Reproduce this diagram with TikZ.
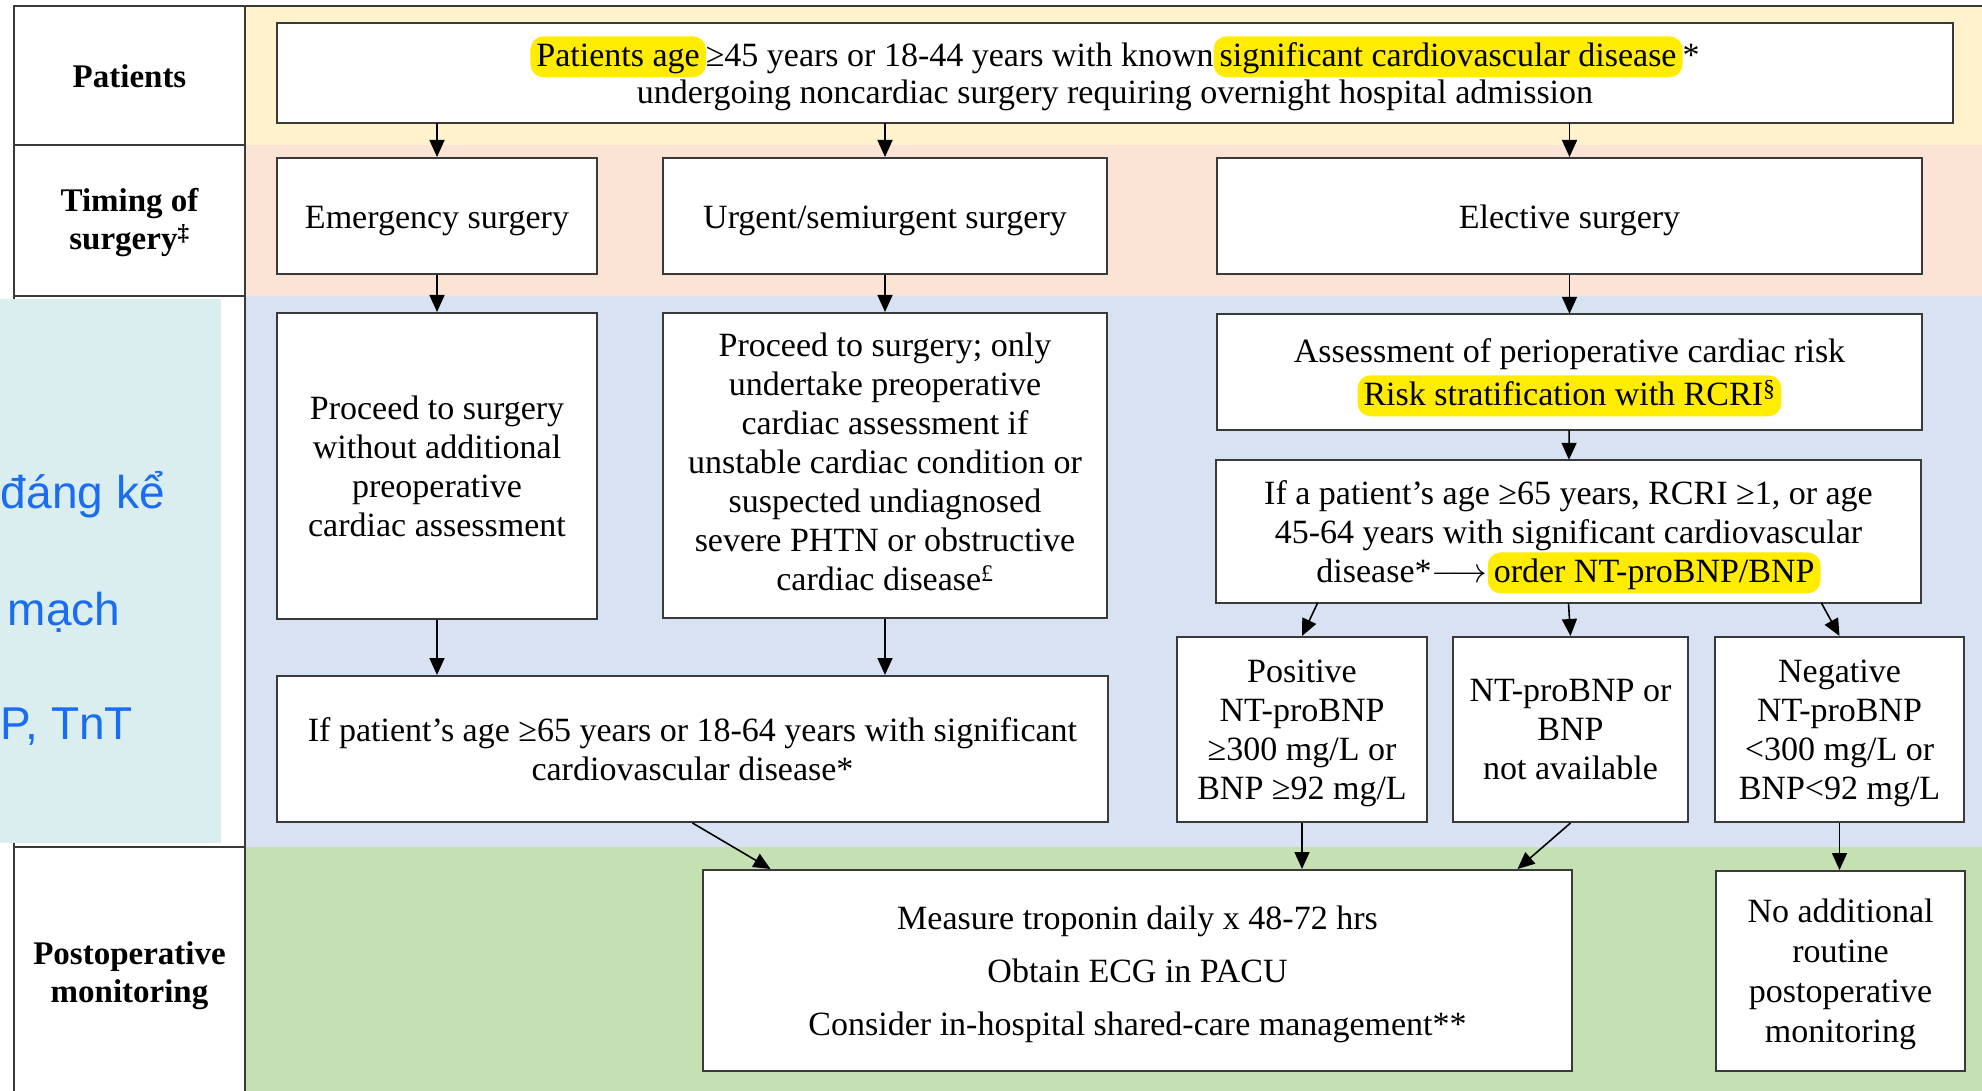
\documentclass[tikz,border=0pt]{standalone}
\usepackage{fontspec}
\setmainfont{Liberation Serif}
\newfontfamily\slidefont{Liberation Sans}
\usetikzlibrary{arrows.meta, positioning}

\definecolor{bandyellow}{HTML}{FFF2CC}
\definecolor{bandpink}{HTML}{FBE4D5}
\definecolor{bandblue}{HTML}{D9E2F3}
\definecolor{bandgreen}{HTML}{C5E0B3}
\definecolor{slideteal}{HTML}{DAEDEF}
\definecolor{slideblue}{HTML}{1A6DF0}
\definecolor{hlyellow}{HTML}{FFEC00}
\definecolor{rule}{HTML}{3A3A3A}

% yellow marker behind a few words
\newcommand{\hlt}[1]{\smash{\tikz[baseline=(h.base)]\node[shape=rectangle, draw=none, fill=hlyellow,
  rounded corners=13pt, minimum width=0pt, minimum height=0pt, inner xsep=6pt, inner ysep=3pt,
  text height=27pt, text depth=8pt] (h) {#1};}\vphantom{#1}}
\newcommand{\tallstrut}{\rule{0pt}{31pt}}
\newcommand{\deepstrut}{\rule[-8pt]{0pt}{8pt}}

\begin{document}
\begin{tikzpicture}[x=1pt, y=-1pt, line width=2pt,
  box/.style={draw=rule, fill=white, rectangle, inner sep=4pt, align=center,
    font=\fontsize{34}{39}\selectfont},
  oneline/.style={text height=26pt, text depth=0pt},
  lab/.style={align=center, font=\bfseries\fontsize{33}{38}\selectfont},
  arr/.style={-{Triangle[length=17pt, width=15pt]}, line width=1.6pt},
  slide/.style={anchor=base west, text=slideblue, font=\slidefont\fontsize{46}{50}\selectfont}]

  \useasboundingbox (0,0) rectangle (1982,1091);

  % bands
  \fill[bandyellow] (245,6) rectangle (1982,145);
  \fill[bandpink] (245,145) rectangle (1982,296);
  \fill[bandblue] (245,296) rectangle (1982,847);
  \fill[bandgreen] (245,847) rectangle (1982,1091);

  % label column
  \draw[rule] (14,1091) -- (14,6) -- (1982,6);
  \draw[rule] (245,6) -- (245,1091);
  \foreach \y in {145,296,847}
    \draw[rule] (14,\y) -- (245,\y);

  \node[lab] (patients) at (129.5,76) {Patients};
  \node[lab] (timing) at (129.5,223) {Timing of\\surgery\textsuperscript{‡}};
  \node[lab] (postop) at (129.5,976) {Postoperative\\monitoring};

  \fill[slideteal] (0,299) rectangle (221,843);
  \begin{scope}
    \clip (0,299) rectangle (221,843);
    \node[slide, inner xsep=0pt] (s1) at (0,508) {đáng kể};
    \node[slide, inner xsep=0pt] (s2) at (7,625) {mạch};
    \node[slide, inner xsep=0pt] (s3) at (0,739) {P, TnT};
  \end{scope}

  % boxes
  \node[box, minimum width=1676pt, minimum height=100pt, font=\fontsize{34}{37}\selectfont] (top) at (1115,73)
    {\tallstrut\hlt{Patients age}≥45 years or 18-44 years with known\hlt{significant cardiovascular disease}*\\
     undergoing noncardiac surgery requiring overnight hospital admission};

  \node[box, oneline, minimum width=320pt, minimum height=116pt] (emerg) at (437,216) {Emergency surgery};
  \node[box, oneline, minimum width=444pt, minimum height=116pt] (urg) at (885,216) {Urgent/semiurgent surgery};
  \node[box, oneline, minimum width=705pt, minimum height=116pt] (elec) at (1569.5,216) {Elective surgery};

  \node[box, minimum width=320pt, minimum height=306pt] (proc1) at (437,466)
    {Proceed to surgery\\without additional\\preoperative\\cardiac assessment};
  \node[box, minimum width=444pt, minimum height=305pt] (proc2) at (885,465.5)
    {Proceed to surgery; only\\undertake preoperative\\cardiac assessment if\\unstable cardiac condition or\\
     suspected undiagnosed\\severe PHTN or obstructive\\cardiac disease\textsuperscript{£}\deepstrut};
  \node[box, minimum width=831pt, minimum height=146pt] (ifpat) at (692.5,749)
    {If patient’s age ≥65 years or 18-64 years with significant\\cardiovascular disease*};

  \node[box, minimum width=705pt, minimum height=116pt, font=\fontsize{34}{43}\selectfont] (assess) at (1569.5,372)
    {Assessment of perioperative cardiac risk\\\hlt{Risk stratification with RCRI\textsuperscript{§}}};
  \node[box, minimum width=705pt, minimum height=143pt] (ifa) at (1568.5,531.5)
    {\tallstrut If a patient’s age ≥65 years, RCRI ≥1, or age\\45-64 years with significant cardiovascular\\
     disease*\smash{\scalebox{1.4}{$\longrightarrow$}}\hlt{order NT-proBNP/BNP}};

  \node[box, minimum width=250pt, minimum height=185pt] (pos) at (1302,729.5)
    {\tallstrut Positive\\NT-proBNP\\≥300 mg/L or\\BNP ≥92 mg/L};
  \node[box, minimum width=235pt, minimum height=185pt] (na) at (1570.5,729.5)
    {NT-proBNP or\\BNP\\not available};
  \node[box, minimum width=249pt, minimum height=185pt] (neg) at (1839.5,729.5)
    {\tallstrut Negative\\NT-proBNP\\<300 mg/L or\\BNP<92 mg/L};

  \node[box, minimum width=869pt, minimum height=201pt, font=\fontsize{34}{53}\selectfont] (meas) at (1137.5,970.5)
    {\tallstrut Measure troponin daily x 48-72 hrs\\Obtain ECG in PACU\\Consider in-hospital shared-care management**};
  \node[box, minimum width=249pt, minimum height=200pt, font=\fontsize{34}{40}\selectfont] (noadd) at (1840.5,971)
    {\tallstrut No additional\\routine\\postoperative\\monitoring};

  % arrows
  \draw[arr] (top.south -| emerg.north) -- (emerg.north);
  \draw[arr] (top.south -| urg.north) -- (urg.north);
  \draw[arr] (top.south -| elec.north) -- (elec.north);
  \draw[arr] (emerg) -- (proc1);
  \draw[arr] (urg) -- (proc2);
  \draw[arr] (elec) -- (assess);
  \draw[arr] (proc1.south) -- (proc1.south |- ifpat.north);
  \draw[arr] (proc2.south) -- (proc2.south |- ifpat.north);
  \draw[arr] (assess) -- (ifa);
  \draw[arr] ([xshift=-251pt]ifa.south) -- (pos.north);
  \draw[arr] (ifa.south) -- (na.north);
  \draw[arr] ([xshift=253pt]ifa.south) -- (neg.north);
  \draw[arr] (ifpat.south) -- ([xshift=-367pt]meas.north);
  \draw[arr] (pos.south) -- (pos.south |- meas.north);
  \draw[arr] (na.south) -- ([xshift=380pt]meas.north);
  \draw[arr] (neg.south) -- (neg.south |- noadd.north);
\end{tikzpicture}
\end{document}
